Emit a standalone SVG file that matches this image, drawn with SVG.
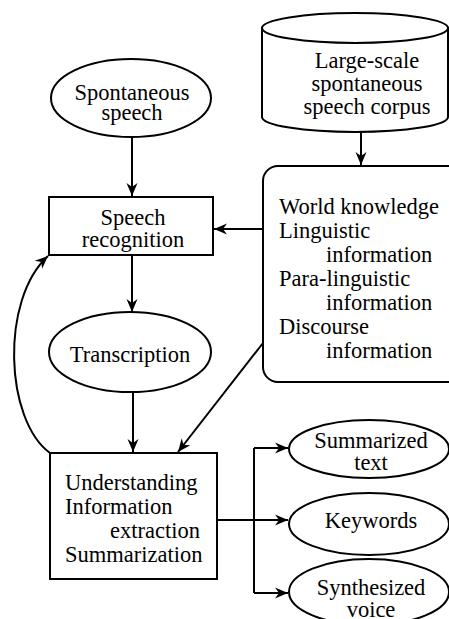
<svg xmlns="http://www.w3.org/2000/svg" width="449" height="619" viewBox="0 0 449 619">
<style>
.n{fill:#fff;stroke:#000;stroke-width:2}
.m{text-anchor:middle}
.c{fill:none;stroke:#000;stroke-width:2}
text{font-family:'Liberation Serif','Times New Roman','DejaVu Serif',serif;font-size:22.5px;fill:#000}
</style>
<defs>
<marker id="ah" markerWidth="14" markerHeight="12" refX="13" refY="6" orient="auto" markerUnits="userSpaceOnUse">
<path d="M0,0.5 L13,6 L0,11.5 L4,6 Z" fill="#000"/>
</marker>
</defs>
<rect width="449" height="619" fill="#fff"/>
<g id="connectors">
<line class="c" x1="132" y1="137" x2="132" y2="196" marker-end="url(#ah)"/>
<line class="c" x1="361" y1="132" x2="361" y2="165" marker-end="url(#ah)"/>
<line class="c" x1="263" y1="229" x2="214" y2="229" marker-end="url(#ah)"/>
<line class="c" x1="132" y1="255" x2="132" y2="312" marker-end="url(#ah)"/>
<line class="c" x1="133" y1="392" x2="133" y2="452" marker-end="url(#ah)"/>
<line class="c" x1="263" y1="343" x2="178" y2="452" marker-end="url(#ah)"/>
<path class="c" d="M50,453 C5,420 0,300 48,256" marker-end="url(#ah)"/>
<line class="c" x1="217" y1="520" x2="254" y2="520"/>
<line class="c" x1="254" y1="448" x2="254" y2="593"/>
<line class="c" x1="254" y1="448" x2="288" y2="448" marker-end="url(#ah)"/>
<line class="c" x1="254" y1="520" x2="288" y2="520" marker-end="url(#ah)"/>
<line class="c" x1="254" y1="593" x2="288" y2="593" marker-end="url(#ah)"/>
</g>
<g font-family="'Liberation Serif', 'Times New Roman', serif" font-size="22.5">
<g id="spontaneous-speech">
<ellipse class="n" cx="131" cy="98" rx="80" ry="39"/>
<text class="m" x="132" y="100">Spontaneous</text>
<text class="m" x="132" y="120">speech</text>
</g>
<g id="corpus">
<path class="n" d="M262,28 L262,117 A93,15 0 0 0 448,117 L448,28 Z"/>
<ellipse class="n" cx="355" cy="28" rx="93" ry="15"/>
<text class="m" x="367" y="68">Large-scale</text>
<text class="m" x="367" y="91">spontaneous</text>
<text class="m" x="367" y="114">speech corpus</text>
</g>
<g id="speech-recognition">
<rect class="n" x="49" y="197" width="164" height="58"/>
<text class="m" x="133" y="225">Speech</text>
<text class="m" x="133" y="247">recognition</text>
</g>
<g id="knowledge">
<rect class="n" x="263" y="166" width="210" height="216" rx="15" ry="15"/>
<text x="279" y="214">World knowledge</text>
<text x="279" y="238">Linguistic</text>
<text x="326" y="262">information</text>
<text x="279" y="286">Para-linguistic</text>
<text x="326" y="310">information</text>
<text x="279" y="334">Discourse</text>
<text x="326" y="358">information</text>
</g>
<g id="transcription">
<ellipse class="n" cx="130" cy="352" rx="81" ry="40"/>
<text class="m" x="130" y="362">Transcription</text>
</g>
<g id="understanding">
<rect class="n" x="50" y="453" width="167" height="126"/>
<text x="65" y="490">Understanding</text>
<text x="65" y="514">Information</text>
<text x="110" y="538">extraction</text>
<text x="65" y="562">Summarization</text>
</g>
<g id="summarized-text">
<ellipse class="n" cx="369" cy="449" rx="80" ry="29"/>
<text class="m" x="371" y="448">Summarized</text>
<text class="m" x="371" y="470">text</text>
</g>
<g id="keywords">
<ellipse class="n" cx="369" cy="524" rx="80" ry="31"/>
<text class="m" x="371" y="528">Keywords</text>
</g>
<g id="synthesized-voice">
<ellipse class="n" cx="369" cy="592" rx="80" ry="33"/>
<text class="m" x="371" y="595">Synthesized</text>
<text class="m" x="371" y="617">voice</text>
</g>
</g>
</svg>
